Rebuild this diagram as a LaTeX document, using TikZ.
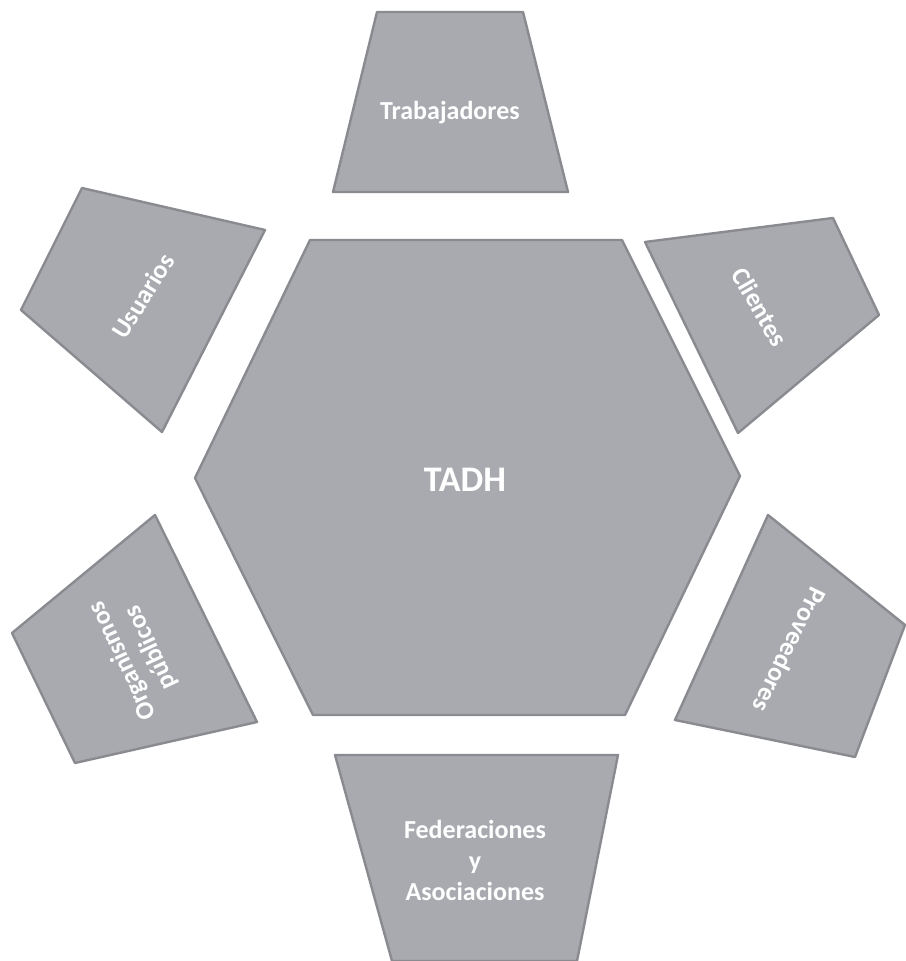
\documentclass[tikz,border=0pt]{standalone}
\usepackage{fontspec}
\setmainfont{Carlito}
\usepackage{tikz}
\definecolor{panelgray}{HTML}{A9AAB0}
\definecolor{edgegray}{HTML}{8A8B91}

\begin{document}
\begin{tikzpicture}[
  x=0.5pt, y=-0.5pt,
  panel/.style={fill=panelgray, draw=edgegray, line width=1.2pt, line join=round},
  lbl/.style={text=white, font=\fontsize{13}{15.5}\selectfont\bfseries, align=center, inner sep=1pt},
  core/.style={text=white, font=\fontsize{18}{20}\selectfont\bfseries, inner sep=1pt}
]
  \useasboundingbox (0,0) rectangle (905,961);

  % hexagono central
  \draw[panel] (310,240) -- (622,240) -- (740,476) -- (625,715) -- (313,715) -- (195,478) -- cycle;

  % trapecios alrededor
  \draw[panel] (377,12) -- (523,12) -- (568,192) -- (333,192) -- cycle;
  \draw[panel] (82,188) -- (265,230) -- (162,432) -- (21,310) -- cycle;
  \draw[panel] (645,242) -- (833,218) -- (879,315) -- (738,433) -- cycle;
  \draw[panel] (155,515) -- (257,722) -- (75,763) -- (12,633) -- cycle;
  \draw[panel] (768,515) -- (905,625) -- (855,757) -- (675,720) -- cycle;
  \draw[panel] (335,755) -- (618,755) -- (577,961) -- (392,961) -- cycle;

  % textos
  \node[core] (tadh) at (465,480) {TADH};
  \node[lbl] (trab) at (450,113) {Trabajadores};
  \node[lbl, rotate=58] (usu) at (143,296) {Usuarios};
  \node[lbl, rotate=-60] (cli) at (760,307) {Clientes};
  \node[lbl, rotate=115] (org) at (137,654) {Organismos\\públicos};
  \node[lbl, rotate=-116] (prov) at (790,650) {Proveedores};
  \node[lbl] (fed) at (475,860) {Federaciones\\y\\Asociaciones};
\end{tikzpicture}
\end{document}
